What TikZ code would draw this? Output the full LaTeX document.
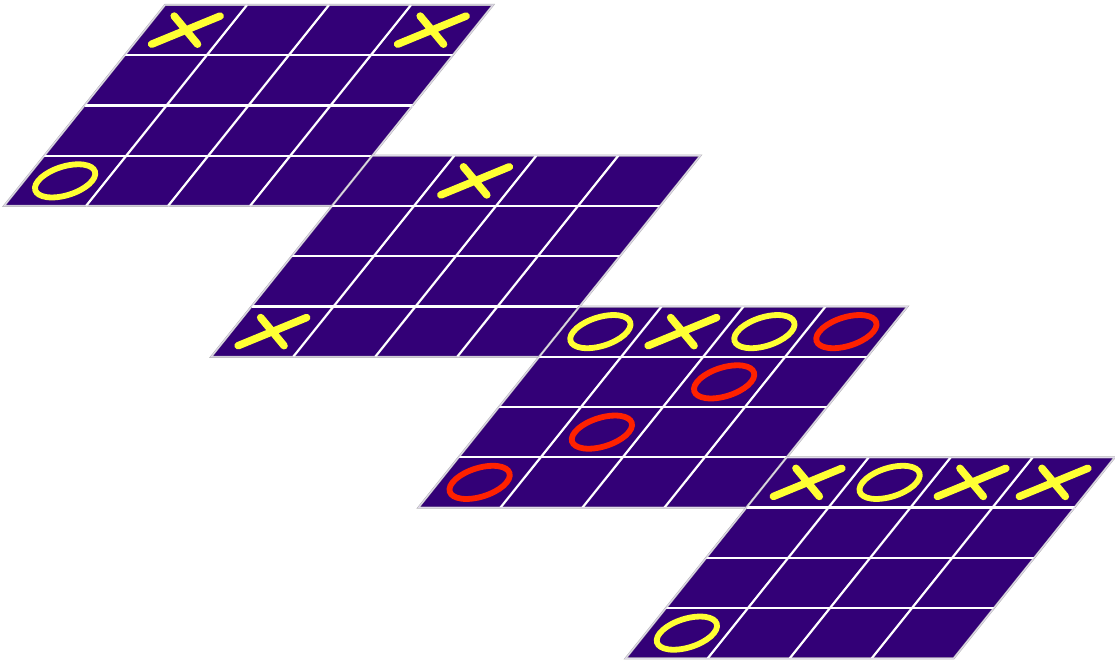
\documentclass[tikz,border=0pt]{standalone}
\definecolor{boardpurple}{HTML}{330077}
\definecolor{markyellow}{HTML}{FFFF33}
\definecolor{markred}{HTML}{FF2200}
\tikzset{
  boardfill/.style={fill=boardpurple, draw=gray!60, line width=2pt, line join=miter},
  gridline/.style={draw=white, line width=2.2pt},
  edgeline/.style={draw=white!85!boardpurple, line width=1pt, line join=miter},
  xmark/.style={draw=markyellow, line width=7.5pt, line cap=round},
  omark/.style={draw=markyellow, line width=5.8pt},
  redo/.style={draw=markred, line width=5.8pt},
  boardat/.style={x={(82pt,0pt)}, y={(40.25pt,50.25pt)}}
}
\newcommand{\markX}[2]{\draw[xmark] (#1+0.22,#2+0.22) -- (#1+0.78,#2+0.78) (#1+0.22,#2+0.78) -- (#1+0.78,#2+0.22);}
\newcommand{\markO}[3][omark]{\draw[#1] (#2+0.5,#3+0.5) ellipse [x radius=0.33, y radius=0.33];}
\newcommand{\drawboard}{%
  \path[boardfill] (0,0) -- (4,0) -- (4,4) -- (0,4) -- cycle;
  \foreach \k in {1,2,3} {
    \draw[gridline] (0,\k) -- (4,\k);
    \draw[gridline] (\k,0) -- (\k,4);
  }
  \draw[edgeline] (0,0) -- (4,0) -- (4,4) -- (0,4) -- cycle;
}
\begin{document}
\begin{tikzpicture}
\useasboundingbox (0pt,0pt) rectangle (1115pt,-660pt);
% board 1
\begin{scope}[shift={(4pt,-206pt)}, boardat]
  \drawboard
  \markX{0}{3}
  \markX{3}{3}
  \markO{0}{0}
\end{scope}
% board 2
\begin{scope}[shift={(211.25pt,-356.75pt)}, boardat]
  \drawboard
  \markX{1}{3}
  \markX{0}{0}
\end{scope}
% board 3
\begin{scope}[shift={(418.5pt,-507.5pt)}, boardat]
  \drawboard
  \markO{0}{3}
  \markX{1}{3}
  \markO{2}{3}
  \markO[redo]{3}{3}
  \markO[redo]{2}{2}
  \markO[redo]{1}{1}
  \markO[redo]{0}{0}
\end{scope}
% board 4
\begin{scope}[shift={(625.75pt,-658.25pt)}, boardat]
  \drawboard
  \markX{0}{3}
  \markO{1}{3}
  \markX{2}{3}
  \markX{3}{3}
  \markO{0}{0}
\end{scope}
\end{tikzpicture}
\end{document}
